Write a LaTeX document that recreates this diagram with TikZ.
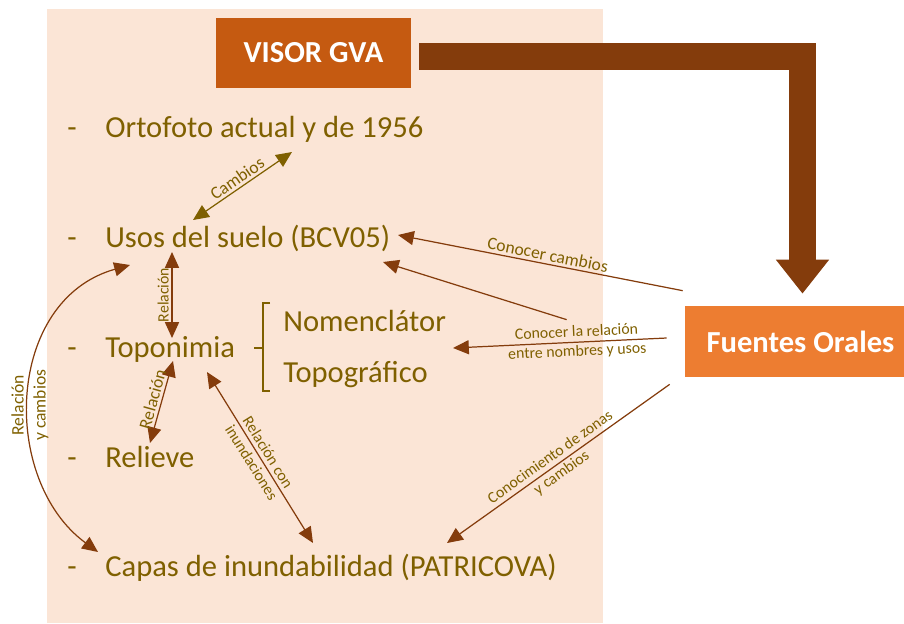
\documentclass[tikz,border=0pt]{standalone}
\usepackage{fontspec}
\setmainfont{Carlito}
\usetikzlibrary{arrows.meta,calc}
\definecolor{fondo}{HTML}{FBE5D6}
\definecolor{visorcol}{HTML}{C55A11}
\definecolor{fuentescol}{HTML}{ED7D31}
\definecolor{marron}{HTML}{843C0C}
\definecolor{oliva}{HTML}{7F6000}

\begin{document}
\begin{tikzpicture}[x=0.02cm,y=-0.02cm,
    >={Triangle[length=9pt,width=8pt]},
    item/.style={text=oliva,font=\fontsize{17.4}{21}\selectfont,inner sep=0pt,anchor=base west},
    etiq/.style={text=oliva,font=\fontsize{9}{11}\selectfont,inner sep=1.5pt,align=center},
    etiqg/.style={etiq,font=\fontsize{10}{12.5}\selectfont},
    caja/.style={text=white,font=\fontsize{17.4}{20}\selectfont\bfseries,inner sep=0pt},
    enlace/.style={draw=marron,line width=0.7pt}]
  \useasboundingbox (0,0) rectangle (904,623);
  \fill[fondo] (47,9) rectangle (603,623);

  \node[caja,fill=visorcol,minimum width=3.9cm,minimum height=1.4cm] (visor) at (313.5,53) {VISOR GVA};
  \node[caja,fill=fuentescol,minimum width=4.38cm,minimum height=1.42cm] (fuentes) at (794.5,341.5) {\hspace*{6.8pt}Fuentes Orales};
  \draw[marron,line width=0.54cm,line join=miter,-{Triangle[length=0.68cm,width=1.02cm]}]
    ($(visor.east)+(8,3.5)$) -| ($(fuentes.north)+(8,-12)$);

  \foreach \nm/\yy in {d1/137,d2/247,d3/357,d4/467,d5/576}
    \node[item] (\nm) at (67,\yy) {-};
  \node[item] (orto) at (105,137) {Ortofoto actual y de 1956};
  \node[item] (usos) at (105,247) {Usos del suelo (BCV05)};
  \node[item] (topo) at (105,357) {Toponimia};
  \node[item] (relieve) at (105,467) {Relieve};
  \node[item] (capas) at (105,576) {Capas de inundabilidad (PATRICOVA)};
  \node[item] (nomen) at (283,331) {Nomenclátor};
  \node[item] (topog) at (283,382) {Topográfico};
  \draw[oliva,line width=1.1pt] (270,303) -- (263,303) -- (263,391) -- (270,391) (263,348) -- (254,348);

  \draw[enlace,draw=oliva,<->] ($(usos.base west)+(88,-27)$) -- node[etiqg,sloped,above] {Cambios} ($(orto.base west)+(187,15)$);
  \draw[enlace,<->] ($(topo.base west)+(67,-19)$) -- node[etiq,sloped,above] {Relación} ($(usos.base west)+(67,5)$);
  \draw[enlace,<->] ($(relieve.base west)+(45,-24)$) -- node[etiqg,sloped,above] {Relación} ($(topo.base west)+(68,4)$);
  \draw[enlace,<->] ($(topo.base west)+(102,15)$) -- node[etiq,sloped] {Relación con\\inundaciones} ($(capas.base west)+(208,-33)$);
  \draw[enlace,<->] ($(usos.base west)+(25,18)$) .. controls +(-125,35) and +(-98,-72) .. node[etiqg,rotate=90,pos=.53] {Relación\\y cambios} ($(capas.base west)+(-7,-24)$);

  \draw[enlace,<-] ($(usos.base west)+(293,-12)$) -- node[etiqg,sloped,above,pos=.52] {Conocer cambios} ($(fuentes.north west)+(-2,-15)$);
  \draw[enlace,<-] ($(usos.base west)+(278,15)$) -- ($(fuentes.north west)+(-118,14)$);
  \draw[enlace,<-] ($(topo.base west)+(348,-9)$) -- node[etiq,sloped,pos=.58] {Conocer la relación\\entre nombres y usos} ($(fuentes.west)+(-18,-3.5)$);
  \draw[enlace,<-] ($(capas.base west)+(342,-33)$) -- node[etiq,sloped,pos=.49] {Conocimiento de zonas\\y cambios} ($(fuentes.south west)+(-15,7)$);
\end{tikzpicture}
\end{document}
